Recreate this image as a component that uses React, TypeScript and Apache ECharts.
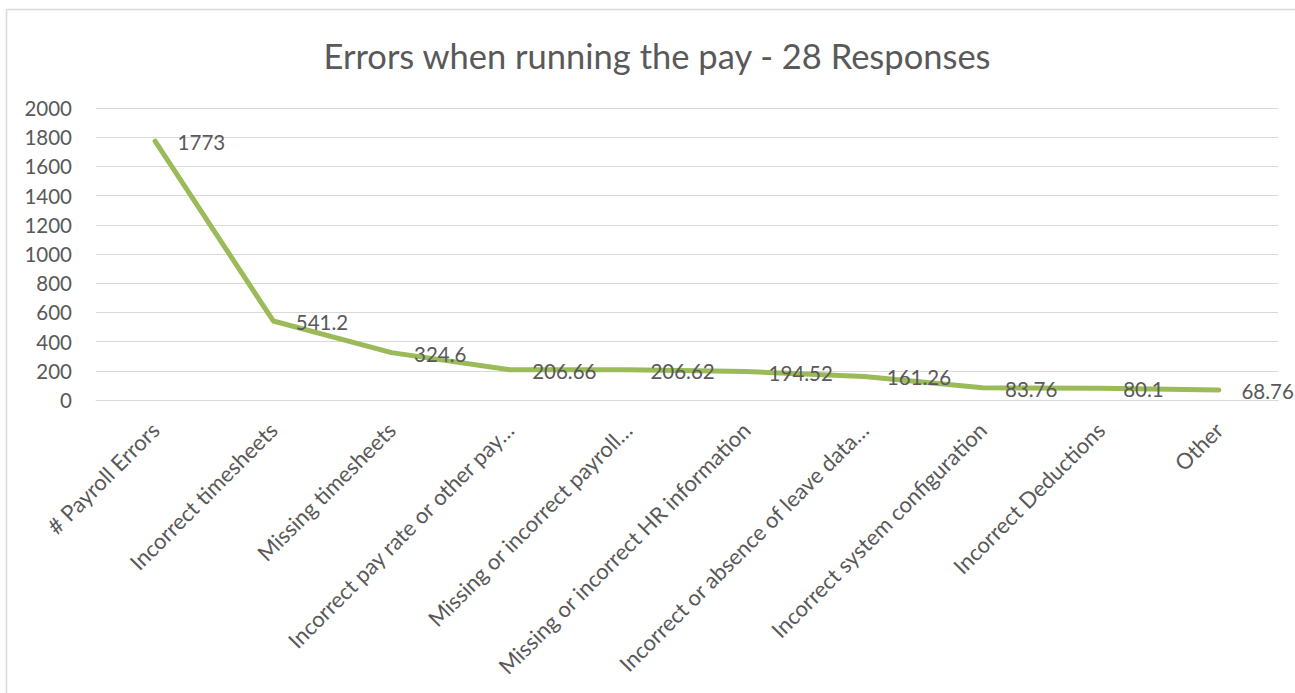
import React, { useEffect, useRef } from "react";
import * as echarts from "echarts";

const titleText = "Errors when running the pay - 28 Responses";
const categories = [
  "# Payroll Errors",
  "Incorrect timesheets",
  "Missing timesheets",
  "Incorrect pay rate or other pay…",
  "Missing or incorrect payroll…",
  "Missing or incorrect HR information",
  "Incorrect or absence of leave data…",
  "Incorrect system configuration",
  "Incorrect Deductions",
  "Other",
];
const values = [1773, 541.2, 324.6, 206.66, 206.62, 194.52, 161.26, 83.76, 80.1, 68.76];
const yMin = 0;
const yMax = 2000;
const yInterval = 200;

const FONT = "Lato";
const TEXT = "#595959";
const GRID = "#D9D9D9";

export default function App() {
  const ref = useRef<HTMLDivElement>(null);
  useEffect(() => {
    document.body.style.margin = "0";
    const chart = echarts.init(ref.current!, null, { renderer: "svg" });
    chart.setOption({
      animation: false,
      backgroundColor: "#FFFFFF",
      textStyle: { fontFamily: FONT },
      title: {
        text: titleText,
        left: 652,
        top: 33,
        textAlign: "center",
        textStyle: { fontFamily: FONT, fontSize: 34.5, fontWeight: "normal", color: TEXT },
      },
      graphic: [
        { type: "line", shape: { x1: 6.5, y1: 9.5, x2: 1295, y2: 9.5 }, style: { stroke: GRID, lineWidth: 1.5 } },
        { type: "line", shape: { x1: 6.5, y1: 9.5, x2: 6.5, y2: 693 }, style: { stroke: GRID, lineWidth: 1.5 } },
      ],
      grid: { left: 96, right: 17, top: 108, bottom: 293, containLabel: false },
      xAxis: {
        type: "category",
        data: categories,
        boundaryGap: true,
        axisLine: { show: true, lineStyle: { color: GRID, width: 1 } },
        axisTick: { show: false },
        axisLabel: {
          interval: 0,
          rotate: 45,
          margin: 26,
          fontFamily: FONT,
          fontSize: 22,
          color: TEXT,
        },
      },
      yAxis: {
        type: "value",
        min: yMin,
        max: yMax,
        interval: yInterval,
        axisLine: { show: false },
        axisTick: { show: false },
        splitLine: { show: true, lineStyle: { color: GRID, width: 1 } },
        axisLabel: {
          margin: 24,
          fontFamily: FONT,
          fontSize: 20.5,
          color: TEXT,
          formatter: (v: number) => String(v),
        },
      },
      series: [
        {
          type: "line",
          data: values,
          symbol: "circle",
          symbolSize: 1,
          showSymbol: true,
          itemStyle: { color: "#9BBB59", opacity: 0 },
          lineStyle: { color: "#9BBB59", width: 5, cap: "round", join: "round" },
          label: {
            show: true,
            position: "right",
            distance: 22,
            offset: [0, 1],
            fontFamily: FONT,
            fontSize: 20.5,
            color: TEXT,
            opacity: 1,
          },
        },
      ],
    });
    return () => chart.dispose();
  }, []);
  return (
    <div
      ref={ref}
      style={{ position: "absolute", left: 0, top: 0, width: 1295, height: 693 }}
    />
  );
}
